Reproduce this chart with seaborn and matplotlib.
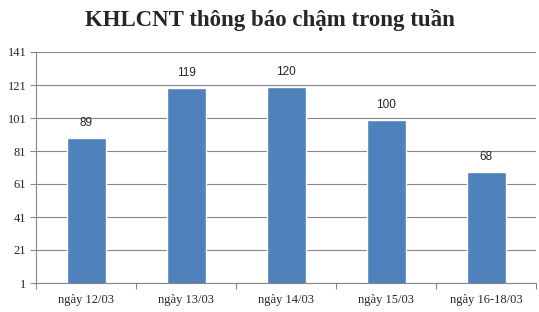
import matplotlib
matplotlib.use("Agg")
import matplotlib.pyplot as plt
import seaborn as sns
import pandas as pd
import numpy as np

categories = ["ngày 12/03", "ngày 13/03", "ngày 14/03", "ngày 15/03", "ngày 16-18/03"]
values = [89, 119, 120, 100, 68]
yticks = [1, 21, 41, 61, 81, 101, 121, 141]

sns.set_theme(style="white")
plt.rcParams['font.family'] = ['Liberation Serif', 'DejaVu Serif']

df = pd.DataFrame({"cat": categories, "val": values})

fig = plt.figure(figsize=(5.39, 3.12), dpi=100)
ax = fig.add_axes([36/539, 29/312, 500/539, 231/312])

sns.barplot(data=df, x="cat", y="val", color="#4F81BD", width=0.39,
            saturation=1, ax=ax, zorder=3)

ax.set_ylim(1, 141)
ax.set_yticks(yticks)
ax.set_yticklabels([str(t) for t in yticks], fontsize=9)
ax.set_xlim(-0.5, len(categories) - 0.5)
ax.set_xlabel("")
ax.set_ylabel("")
ax.tick_params(axis='x', which='major', length=0, labelsize=9, pad=8)
ax.set_xticks(np.arange(-0.5, len(categories)), minor=True)
ax.tick_params(axis='x', which='minor', length=4, width=0.8, color="#868686", direction='out', bottom=True)
ax.tick_params(axis='y', length=4, width=0.8, color="#868686", direction='out', left=True, pad=3)
ax.grid(axis='y', color="#868686", linewidth=0.8, zorder=0)
for s in ["top", "right"]:
    ax.spines[s].set_visible(False)
for s in ["left", "bottom"]:
    ax.spines[s].set_color("#868686")
    ax.spines[s].set_linewidth(0.8)

for i, v in enumerate(values):
    ax.annotate(str(v), (i, v), xytext=(0, 6.5), textcoords="offset points",
                ha="center", va="bottom", fontsize=8.5, family=["Liberation Sans", "DejaVu Sans"])

fig.text(0.5, 1 - 20/312, "KHLCNT thông báo chậm trong tuần", ha="center", va="center",
         fontsize=16.5, fontweight="bold")

fig.savefig("out.png", dpi=100)
